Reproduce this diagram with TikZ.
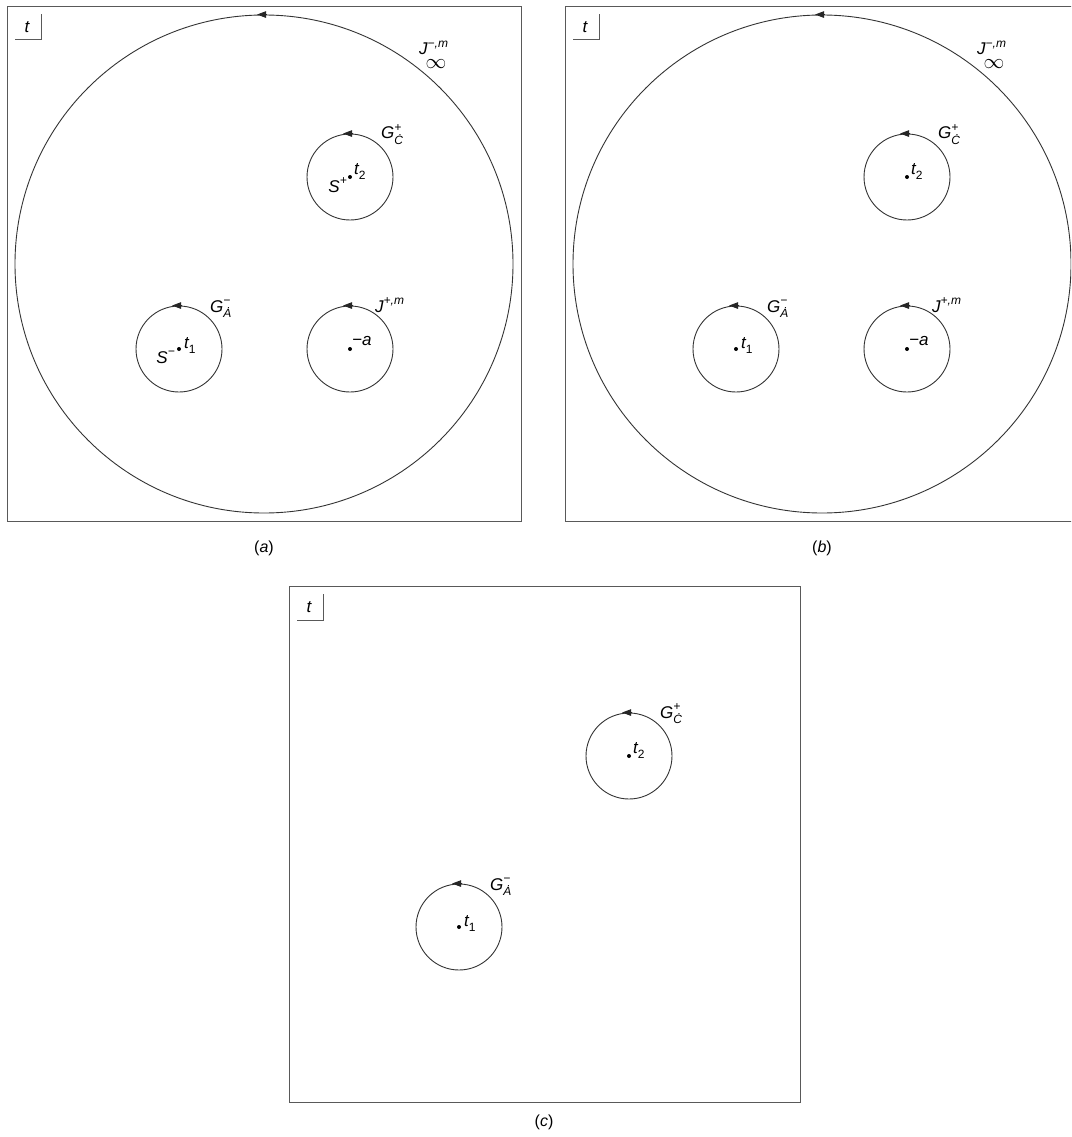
\documentclass[tikz,border=0pt]{standalone}
\usepackage{fontspec}
\setmainfont{Liberation Sans}
\usetikzlibrary{arrows.meta}
\newcommand{\mysup}[1]{\raisebox{0.45em}{\fontsize{12}{12}\selectfont #1}}
\newcommand{\mysub}[1]{\raisebox{-0.3em}{\fontsize{12}{12}\selectfont #1}}
\newcommand{\mysupsub}[2]{\rlap{\mysup{#1}}\mysub{#2}}
\begin{document}
\begin{tikzpicture}[x=1pt,y=-1pt,
  frame/.style={draw=black!65, line width=1pt, rectangle, inner sep=0pt, anchor=north west},
  contour/.style={draw=black!80, line width=0.9pt, circle, inner sep=0pt},
  lbl/.style={font=\fontsize{17}{19}\selectfont\itshape, inner sep=0pt},
  captext/.style={font=\fontsize{16}{18}\selectfont, inner sep=0pt},
  pt/.style={circle, fill=black, inner sep=0pt, minimum size=4pt},
  tip/.style={-{Triangle[length=9pt,width=6.5pt]}, draw=black!85, fill=black!85, line width=0.9pt},
  corner/.style={draw=black!65, line width=1pt}
]
\useasboundingbox (0,0) rectangle (1071,1137);
\clip (0,0) rectangle (1071,1137);

% ================= panel (a) =================
\node[frame, minimum width=514pt, minimum height=515pt] (boxa) at (7,6) {};
\node[lbl] (ta) at ([shift={(20,21)}]boxa.north west) {t};
\draw[corner] ([shift={(8,34)}]boxa.north west) -| ([shift={(34,8)}]boxa.north west);

\node[contour, minimum size=498pt] (Jinfa) at (264,264) {};
\draw[tip] ([xshift=3pt]Jinfa.north) -- ([xshift=-7pt]Jinfa.north);
\node[lbl, anchor=base west] (Jla) at ([shift={(155,-209)}]Jinfa.center) {J\mysup{−,m}};
\node[inner sep=0pt, font=\fontsize{20}{20}\selectfont] (infa) at ([shift={(172,-200)}]Jinfa.center) {$\infty$};

\node[contour, minimum size=86pt] (Gca) at (350,177) {};
\draw[tip] ([xshift=3pt]Gca.north) -- ([xshift=-7pt]Gca.north);
\node[pt] (t2a) at (Gca.center) {};
\node[lbl, anchor=base west] (Gcla) at ([shift={(31,-38)}]Gca.center) {G\mysupsub{+}{\.{C}}};
\node[lbl, anchor=base west] (t2la) at ([shift={(4,-3)}]t2a.center) {t\mysub{\upshape 2}};
\node[lbl, anchor=base east] (Spa) at ([shift={(-3,15)}]t2a.center) {S\mysup{+}};

\node[contour, minimum size=86pt] (Gaa) at (179,349) {};
\draw[tip] ([xshift=3pt]Gaa.north) -- ([xshift=-7pt]Gaa.north);
\node[pt] (t1a) at (Gaa.center) {};
\node[lbl, anchor=base west] (Gala) at ([shift={(31,-37)}]Gaa.center) {G\mysupsub{−}{\.{A}}};
\node[lbl, anchor=base west] (t1la) at ([shift={(5,-1)}]t1a.center) {t\mysub{\upshape 1}};
\node[lbl, anchor=base east] (Sma) at ([shift={(-4,14)}]t1a.center) {S\mysup{−}};

\node[contour, minimum size=86pt] (Jpa) at (350,349) {};
\draw[tip] ([xshift=3pt]Jpa.north) -- ([xshift=-7pt]Jpa.north);
\node[pt] (ma) at (Jpa.center) {};
\node[lbl, anchor=base west] (Jpla) at ([shift={(25,-37)}]Jpa.center) {J\mysup{+,m}};
\node[lbl, anchor=base west] (mla) at ([shift={(2,-4)}]ma.center) {−a};

\node[captext] (capa) at (264,548) {(\textit{a})};

% ================= panel (b) =================
\node[frame, minimum width=514pt, minimum height=515pt] (boxb) at (565,6) {};
\node[lbl] (tb) at ([shift={(20,21)}]boxb.north west) {t};
\draw[corner] ([shift={(8,34)}]boxb.north west) -| ([shift={(34,8)}]boxb.north west);

\node[contour, minimum size=498pt] (Jinfb) at (822,264) {};
\draw[tip] ([xshift=3pt]Jinfb.north) -- ([xshift=-7pt]Jinfb.north);
\node[lbl, anchor=base west] (Jlb) at ([shift={(155,-209)}]Jinfb.center) {J\mysup{−,m}};
\node[inner sep=0pt, font=\fontsize{20}{20}\selectfont] (infb) at ([shift={(172,-200)}]Jinfb.center) {$\infty$};

\node[contour, minimum size=86pt] (Gcb) at (907,177) {};
\draw[tip] ([xshift=3pt]Gcb.north) -- ([xshift=-7pt]Gcb.north);
\node[pt] (t2b) at (Gcb.center) {};
\node[lbl, anchor=base west] (Gclb) at ([shift={(31,-38)}]Gcb.center) {G\mysupsub{+}{\.{C}}};
\node[lbl, anchor=base west] (t2lb) at ([shift={(4,-3)}]t2b.center) {t\mysub{\upshape 2}};

\node[contour, minimum size=86pt] (Gab) at (736,349) {};
\draw[tip] ([xshift=3pt]Gab.north) -- ([xshift=-7pt]Gab.north);
\node[pt] (t1b) at (Gab.center) {};
\node[lbl, anchor=base west] (Galb) at ([shift={(31,-37)}]Gab.center) {G\mysupsub{−}{\.{A}}};
\node[lbl, anchor=base west] (t1lb) at ([shift={(5,-1)}]t1b.center) {t\mysub{\upshape 1}};

\node[contour, minimum size=86pt] (Jpb) at (907,349) {};
\draw[tip] ([xshift=3pt]Jpb.north) -- ([xshift=-7pt]Jpb.north);
\node[pt] (mb) at (Jpb.center) {};
\node[lbl, anchor=base west] (Jplb) at ([shift={(25,-37)}]Jpb.center) {J\mysup{+,m}};
\node[lbl, anchor=base west] (mlb) at ([shift={(2,-4)}]mb.center) {−a};

\node[captext] (capb) at (822,548) {(\textit{b})};

% ================= panel (c) =================
\node[frame, minimum width=511pt, minimum height=516pt] (boxc) at (289,586) {};
\node[lbl] (tc) at ([shift={(20,21)}]boxc.north west) {t};
\draw[corner] ([shift={(8,34)}]boxc.north west) -| ([shift={(34,8)}]boxc.north west);

\node[contour, minimum size=86pt] (Gcc) at (629,756) {};
\draw[tip] ([xshift=3pt]Gcc.north) -- ([xshift=-7pt]Gcc.north);
\node[pt] (t2c) at (Gcc.center) {};
\node[lbl, anchor=base west] (Gclc) at ([shift={(31,-38)}]Gcc.center) {G\mysupsub{+}{\.{C}}};
\node[lbl, anchor=base west] (t2lc) at ([shift={(4,-3)}]t2c.center) {t\mysub{\upshape 2}};

\node[contour, minimum size=86pt] (Gac) at (459,927) {};
\draw[tip] ([xshift=3pt]Gac.north) -- ([xshift=-7pt]Gac.north);
\node[pt] (t1c) at (Gac.center) {};
\node[lbl, anchor=base west] (Galc) at ([shift={(31,-37)}]Gac.center) {G\mysupsub{−}{\.{A}}};
\node[lbl, anchor=base west] (t1lc) at ([shift={(5,-1)}]t1c.center) {t\mysub{\upshape 1}};

\node[captext] (capc) at (544,1122) {(\textit{c})};
\end{tikzpicture}
\end{document}
